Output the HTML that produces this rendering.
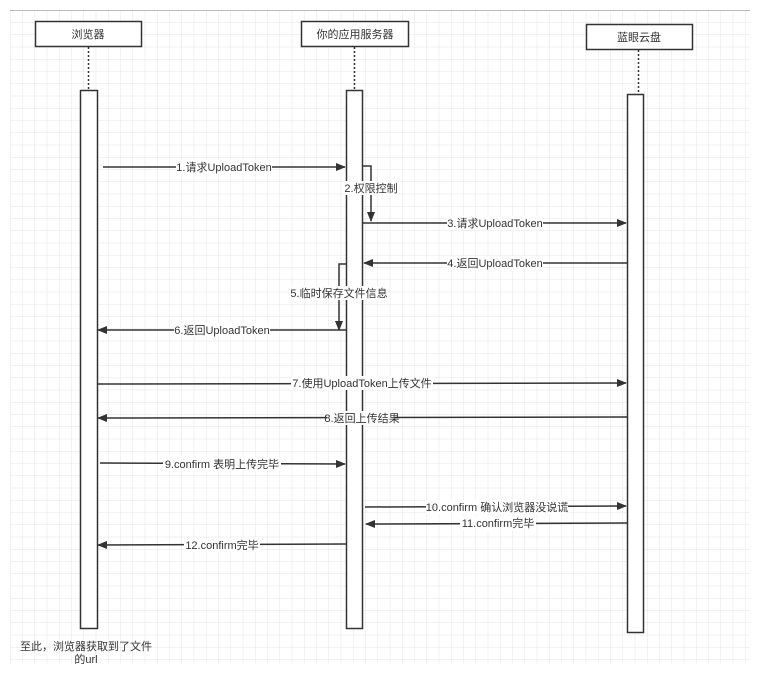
<!DOCTYPE html>
<html><head><meta charset="utf-8"><style>
html,body{margin:0;padding:0;background:#fff;}
svg text{font-family:"Liberation Sans","Noto Sans CJK SC",sans-serif;font-size:11px;fill:#333;}
</style></head><body>
<svg width="770" height="691" viewBox="0 0 770 691" xmlns="http://www.w3.org/2000/svg">
<defs>
<pattern id="g" x="10" y="10" width="12.25" height="12.25" patternUnits="userSpaceOnUse">
<path d="M0 0H12.25M0 0V12.25" stroke="#e4e4e4" stroke-width="1" fill="none"/>
</pattern>
<marker id="a" markerWidth="10" markerHeight="8" refX="9" refY="4" orient="auto" markerUnits="userSpaceOnUse">
<path d="M0 0L10 4L0 8z" fill="#333"/>
</marker>
</defs>
<rect x="10" y="10" width="740" height="654" fill="url(#g)"/>
<line x1="10" y1="10.5" x2="750" y2="10.5" stroke="#bbb"/>
<g fill="#fff" stroke="#333" stroke-width="1.5">
<rect x="35.5" y="21.5" width="106" height="25"/>
<rect x="301.5" y="21.5" width="107" height="25"/>
<rect x="586.5" y="24.5" width="106" height="25"/>
</g>
<text x="88" y="38" text-anchor="middle">浏览器</text>
<text x="355" y="38" text-anchor="middle">你的应用服务器</text>
<text x="639" y="41" text-anchor="middle">蓝眼云盘</text>
<g stroke="#333" stroke-width="1.5" stroke-dasharray="2,2">
<line x1="88.5" y1="47" x2="88.5" y2="90"/>
<line x1="354.5" y1="47" x2="354.5" y2="90"/>
<line x1="638.5" y1="50" x2="638.5" y2="94"/>
</g>
<g fill="#fff" stroke="#333" stroke-width="1.5">
<rect x="80.5" y="90.5" width="17" height="538"/>
<rect x="346.5" y="90.5" width="16" height="538"/>
<rect x="627.5" y="94.5" width="16" height="538"/>
</g>
<g stroke="#333" stroke-width="1.5" fill="none" marker-end="url(#a)">
<line x1="103" y1="167" x2="345" y2="167"/>
<polyline points="363,166 371,166 371,221"/>
<line x1="363" y1="223" x2="626" y2="223"/>
<line x1="627" y1="263" x2="364" y2="263"/>
<polyline points="346,264 339,264 339,330"/>
<line x1="346" y1="330" x2="98" y2="330"/>
<line x1="97" y1="384" x2="626" y2="383"/>
<line x1="627" y1="417" x2="98" y2="418"/>
<line x1="100" y1="463" x2="345" y2="464"/>
<line x1="365" y1="507" x2="626" y2="506"/>
<line x1="627" y1="523" x2="366" y2="524"/>
<line x1="346" y1="544" x2="98" y2="545"/>
</g>
<g text-anchor="middle">
<rect x="176" y="160" width="96" height="14" fill="#fff"/>
<text x="224" y="171">1.请求UploadToken</text>
<rect x="345" y="181" width="52" height="14" fill="#fff"/>
<text x="371" y="192">2.权限控制</text>
<rect x="447" y="216" width="96" height="14" fill="#fff"/>
<text x="495" y="227">3.请求UploadToken</text>
<rect x="447" y="256" width="96" height="14" fill="#fff"/>
<text x="495" y="267">4.返回UploadToken</text>
<rect x="292" y="286" width="94" height="14" fill="#fff"/>
<text x="339" y="297">5.临时保存文件信息</text>
<rect x="174" y="323" width="96" height="14" fill="#fff"/>
<text x="222" y="334">6.返回UploadToken</text>
<rect x="291" y="376" width="142" height="14" fill="#fff"/>
<text x="362" y="387">7.使用UploadToken上传文件</text>
<rect x="327" y="411" width="68" height="14" fill="#fff"/>
<text x="362" y="422">8.返回上传结果</text>
<rect x="163" y="457" width="118" height="14" fill="#fff"/>
<text x="222" y="468">9.confirm 表明上传完毕</text>
<rect x="426" y="500" width="142" height="14" fill="#fff"/>
<text x="497" y="511">10.confirm 确认浏览器没说谎</text>
<rect x="460" y="516" width="76" height="14" fill="#fff"/>
<text x="498" y="527">11.confirm完毕</text>
<rect x="184" y="538" width="76" height="14" fill="#fff"/>
<text x="222" y="549">12.confirm完毕</text>
<text x="86" y="650" font-size="10.5">至此，浏览器获取到了文件</text>
<text x="86" y="663" font-size="10.5">的url</text>
</g>
</svg>
</body></html>
